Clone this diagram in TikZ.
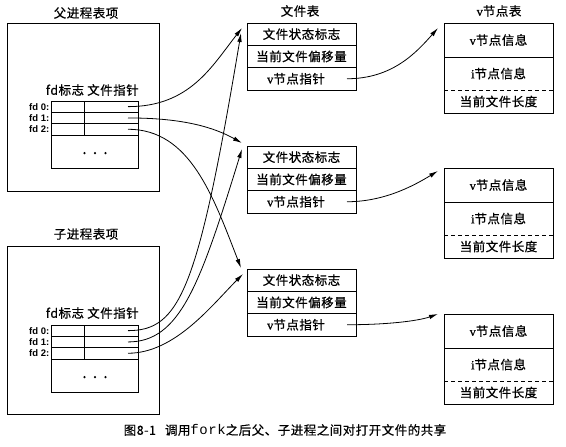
\documentclass[tikz,border=0pt]{standalone}
\usepackage{fontspec}
\setmainfont[LetterSpace=4,FakeBold=0.6]{Noto Sans CJK SC}
\newfontfamily\monof[LetterSpace=4]{Liberation Mono}
\newfontfamily\fdfont{Liberation Sans}
\newfontfamily\latserif[FakeBold=0.6]{Liberation Serif}
\usetikzlibrary{arrows.meta}
\tikzset{
  every node/.append style={font=\fontsize{12.5}{14}\selectfont},
  fcell/.style={draw, line width=0.8pt, minimum width=109pt, minimum height=22.3pt, inner sep=0pt, outer sep=0pt, anchor=north west},
  vrow/.style={minimum width=109pt, inner sep=0pt, outer sep=0pt, anchor=north west},
  fdcell/.style={draw, line width=0.8pt, minimum height=11.3pt, inner sep=0pt, outer sep=0pt, anchor=north west},
  outerbox/.style={draw, line width=0.8pt, minimum width=152pt, minimum height=168pt, inner sep=0pt, outer sep=0pt, anchor=north west},
  fdlbl/.style={font=\fdfont\bfseries\fontsize{9.5}{10}\selectfont, anchor=east, inner sep=0pt},
  ptr/.style={-{Latex[length=9pt,width=4.5pt]}, line width=0.8pt},
  boxline/.style={line width=0.8pt},
  dotmark/.style={fill=black}
}
\begin{document}
\begin{tikzpicture}[x=1pt,y=-1pt]
\useasboundingbox (0,0) rectangle (566,447);

% ---------- titles ----------
\node (tpar) at (86,13) {父进程表项};
\node (tfile) at (300,11) {文件表};
\node (tvn) at (499,11) {{\latserif v}节点表};
\node (tchild) at (86,234) {子进程表项};

% ---------- parent process entry ----------
\node[outerbox] (pbox) at (7,23) {};
\node (phdr1) at (65,90) {fd标志};
\node (phdr2) at (113,90) {文件指针};
\node[fdcell, minimum width=33pt] (pf0) at (51,101) {};
\node[fdcell, minimum width=54pt] (pp0) at (84,101) {};
\node[fdcell, minimum width=33pt] (pf1) at (pf0.south west) {};
\node[fdcell, minimum width=54pt] (pp1) at (pp0.south west) {};
\node[fdcell, minimum width=33pt] (pf2) at (pf1.south west) {};
\node[fdcell, minimum width=54pt] (pp2) at (pp1.south west) {};
\node[fdcell, minimum width=87pt, minimum height=33.4pt] (prest) at (pf2.south west) {};
\node[fdlbl] (pl0) at ([xshift=-1.5pt]pf0.west) {fd 0:};
\node[fdlbl] (pl1) at ([xshift=-1.5pt]pf1.west) {fd 1:};
\node[fdlbl] (pl2) at ([xshift=-1.5pt]pf2.west) {fd 2:};
\fill[dotmark] ([shift={(-10,1.5)}]prest.center) circle (1.2pt);
\fill[dotmark] ([shift={(0.5,1.5)}]prest.center) circle (1.2pt);
\fill[dotmark] ([shift={(11,1.5)}]prest.center) circle (1.2pt);

% ---------- child process entry ----------
\node[outerbox] (cbox) at (7,246) {};
\node (chdr1) at (65,313) {fd标志};
\node (chdr2) at (113,313) {文件指针};
\node[fdcell, minimum width=33pt] (cf0) at (51,325) {};
\node[fdcell, minimum width=54pt] (cp0) at (84,325) {};
\node[fdcell, minimum width=33pt] (cf1) at (cf0.south west) {};
\node[fdcell, minimum width=54pt] (cp1) at (cp0.south west) {};
\node[fdcell, minimum width=33pt] (cf2) at (cf1.south west) {};
\node[fdcell, minimum width=54pt] (cp2) at (cp1.south west) {};
\node[fdcell, minimum width=87pt, minimum height=33.4pt] (crest) at (cf2.south west) {};
\node[fdlbl] (cl0) at ([xshift=-1.5pt]cf0.west) {fd 0:};
\node[fdlbl] (cl1) at ([xshift=-1.5pt]cf1.west) {fd 1:};
\node[fdlbl] (cl2) at ([xshift=-1.5pt]cf2.west) {fd 2:};
\fill[dotmark] ([shift={(-10,1.5)}]crest.center) circle (1.2pt);
\fill[dotmark] ([shift={(0.5,1.5)}]crest.center) circle (1.2pt);
\fill[dotmark] ([shift={(11,1.5)}]crest.center) circle (1.2pt);

% ---------- file table ----------
\node[fcell] (f1a) at (247,23) {文件状态标志};
\node[fcell] (f1b) at (f1a.south west) {当前文件偏移量};
\node[fcell] (f1c) at (f1b.south west) {{\latserif v}节点指针\hspace*{11pt}};
\node[fcell] (f2a) at (247,146) {文件状态标志};
\node[fcell] (f2b) at (f2a.south west) {当前文件偏移量};
\node[fcell] (f2c) at (f2b.south west) {{\latserif v}节点指针\hspace*{11pt}};
\node[fcell] (f3a) at (247,269) {文件状态标志};
\node[fcell] (f3b) at (f3a.south west) {当前文件偏移量};
\node[fcell] (f3c) at (f3b.south west) {{\latserif v}节点指针\hspace*{11pt}};

% ---------- v-node table ----------
\foreach \i/\top in {1/23, 2/168, 3/314} {
  \node[vrow, minimum height=34pt] (v\i a) at (444,\top) {{\latserif v}节点信息};
  \node[vrow, minimum height=33pt] (v\i b) at (v\i a.south west) {{\latserif i}节点信息};
  \node[vrow, minimum height=23pt] (v\i c) at (v\i b.south west) {当前文件长度};
  \draw[boxline] (v\i a.north west) rectangle (v\i c.south east);
  \draw[boxline] (v\i a.south west) -- (v\i a.south east);
  \draw[boxline, dashed, dash pattern=on 4pt off 3pt] (v\i b.south west) -- (v\i b.south east);
}

% ---------- pointers: parent ----------
\draw[ptr] ([xshift=-10pt]pp0.east) .. controls +(62,0) and +(-30,38) .. ([shift={(-5,5)}]f1a.north west);
\draw[ptr] ([xshift=-10pt]pp1.east) .. controls +(57,0) and +(-27,-15) .. ([shift={(-5,-3)}]f2a.north west);
\draw[ptr] ([xshift=-10pt]pp2.east) .. controls +(62,0) and +(-28,-72) .. ([shift={(-6,-1)}]f3a.north west);

% ---------- pointers: child ----------
\draw[ptr] ([xshift=-10pt]cp0.east) .. controls +(52,0) and +(-43,257) .. ([shift={(-6,10)}]f1a.north west);
\draw[ptr] ([xshift=-10pt]cp1.east) .. controls +(52,0) and +(-42,136) .. ([shift={(-5,3)}]f2a.north west);
\draw[ptr] ([xshift=-10pt]cp2.east) .. controls +(47,0) and +(-31,31) .. ([shift={(-4,5)}]f3a.north west);

% ---------- v-node pointers ----------
\draw[ptr] ([xshift=-9pt]f1c.east) .. controls +(45,0) and +(-22,25) .. ([shift={(-6,5)}]v1a.north west);
\draw[ptr] ([xshift=-9pt]f2c.east) .. controls +(40,0) and +(-20,12) .. ([shift={(-6,3)}]v2a.north west);
\draw[ptr] ([xshift=-9pt]f3c.east) .. controls +(40,0) and +(-20,7) .. ([shift={(-6,0)}]v3a.north west);

% ---------- caption ----------
\node (cap) at (285,430) {图8-1\hspace{9pt}调用{\fontsize{14}{14}\selectfont\monof fork}之后父、子进程之间对打开文件的共享};
\end{tikzpicture}
\end{document}
